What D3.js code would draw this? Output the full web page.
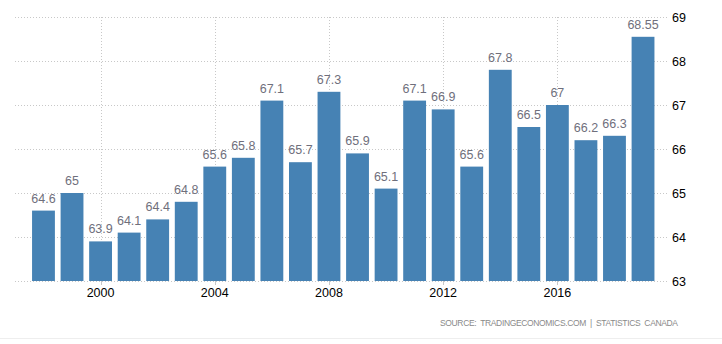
<!DOCTYPE html>
<html><head><meta charset="utf-8">
<script src="https://cdn.jsdelivr.net/npm/d3@7"></script>
<style>body{margin:0;background:#fff;} svg{display:block;}</style>
</head><body>
<svg id="c" width="722" height="344"></svg>
<script>
const years = [1998,1999,2000,2001,2002,2003,2004,2005,2006,2007,2008,2009,2010,2011,2012,2013,2014,2015,2016,2017,2018,2019];
const values = [64.6,65,63.9,64.1,64.4,64.8,65.6,65.8,67.1,65.7,67.3,65.9,65.1,67.1,66.9,65.6,67.8,66.5,67,66.2,66.3,68.55];
const valueLabels = ["64.6","65","63.9","64.1","64.4","64.8","65.6","65.8","67.1","65.7","67.3","65.9","65.1","67.1","66.9","65.6","67.8","66.5","67","66.2","66.3","68.55"];
const yTicks = [63,64,65,66,67,68,69];
const xTicks = [2000,2004,2008,2012,2016];
const sourceText = "SOURCE:  TRADINGECONOMICS.COM  |  STATISTICS  CANADA";

const svg = d3.select("#c");
const font = "'Liberation Sans', Arial, sans-serif";
const gridL = 15, gridR = 668;
const x = d3.scaleBand().domain(years).range([29.2, 657.3]).paddingInner(0.2).paddingOuter(0.1);
const y = d3.scaleLinear().domain([63,69]).range([281,17]);
const cx = yr => x(yr) + x.bandwidth()/2;

// horizontal grid
svg.append("g").selectAll("line").data(yTicks).join("line")
  .attr("x1", gridL).attr("x2", gridR)
  .attr("y1", d => Math.round(y(d))+0.5).attr("y2", d => Math.round(y(d))+0.5)
  .attr("stroke", "#c8c8c8").attr("stroke-dasharray", "1,2");
// vertical grid
svg.append("g").selectAll("line").data(xTicks).join("line")
  .attr("x1", d => Math.round(cx(d))+0.5).attr("x2", d => Math.round(cx(d))+0.5)
  .attr("y1", 17).attr("y2", 281)
  .attr("stroke", "#c8c8c8").attr("stroke-dasharray", "1,2");

// bars
svg.append("g").selectAll("rect").data(years).join("rect")
  .attr("x", d => x(d)).attr("width", x.bandwidth())
  .attr("y", (d,i) => y(values[i])).attr("height", (d,i) => y(63) - y(values[i]))
  .attr("fill", "#4682b4");

// value labels
svg.append("g").selectAll("text").data(years).join("text")
  .attr("x", d => cx(d)).attr("y", (d,i) => y(values[i]) - 8)
  .attr("text-anchor", "middle").attr("font-family", font).attr("font-size", 12.5)
  .attr("fill", "#6f6f7c").text((d,i) => valueLabels[i]);

// x ticks
svg.append("g").selectAll("line").data(xTicks).join("line")
  .attr("x1", d => Math.round(cx(d))+0.5).attr("x2", d => Math.round(cx(d))+0.5)
  .attr("y1", 281).attr("y2", 285).attr("stroke", "#c8c8c8");
svg.append("g").selectAll("text").data(xTicks).join("text")
  .attr("x", d => cx(d)).attr("y", 297)
  .attr("text-anchor", "middle").attr("font-family", font).attr("font-size", 12.5)
  .attr("fill", "#000").text(d => d);

// y axis labels (right)
svg.append("g").selectAll("text").data(yTicks).join("text")
  .attr("x", 672).attr("y", d => y(d) + 5)
  .attr("font-family", font).attr("font-size", 12.5)
  .attr("fill", "#000").text(d => d);

// source
svg.append("text").attr("x", 440).attr("y", 326)
  .attr("font-family", font).attr("font-size", 8.5).attr("fill", "#8a8a8a")
  .attr("textLength", 238).attr("lengthAdjust", "spacing")
  .attr("xml:space", "preserve").style("white-space", "pre").text(sourceText);

svg.append("line").attr("x1", 0).attr("x2", 722).attr("y1", 338.5).attr("y2", 338.5)
  .attr("stroke", "#eeeeee");
</script>
</body></html>
